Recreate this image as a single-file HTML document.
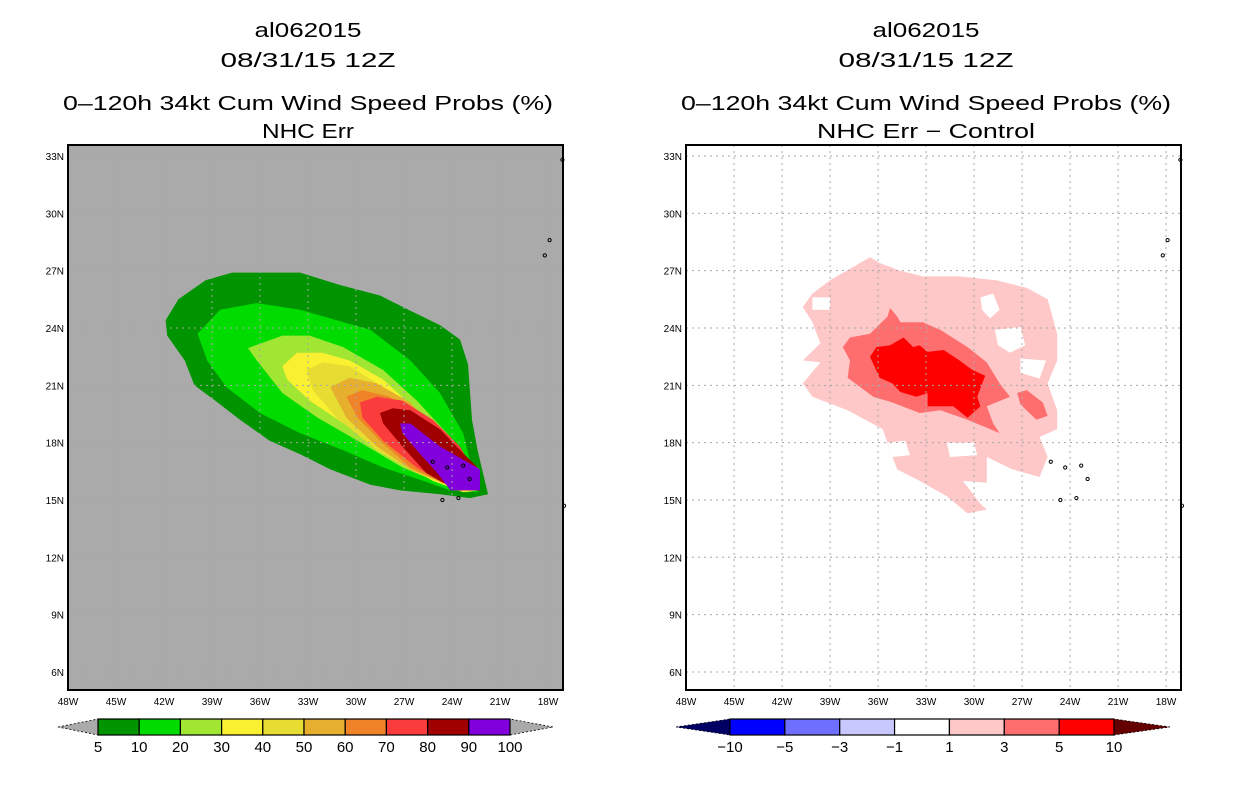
<!DOCTYPE html>
<html><head><meta charset="utf-8"><style>
html,body{margin:0;padding:0;background:#fff;}
svg{display:block;font-family:"Liberation Sans",sans-serif;}
</style></head><body>
<svg id="root" width="1236" height="800" viewBox="0 0 1236 800" xmlns="http://www.w3.org/2000/svg"></svg>
<script>
// ---- axis data ----
const lonTicks=[-48,-45,-42,-39,-36,-33,-30,-27,-24,-21,-18];
const latTicks=[6,9,12,15,18,21,24,27,30,33];
// left panel contour polygons [lon,lat]
const p5=[[-41.9,24.4],[-41.1,25.5],[-39.4,26.5],[-37.75,26.9],[-33.5,26.9],[-31.0,26.25],[-28.5,25.7],[-26.6,24.9],[-24.75,24.15],[-23.5,23.4],[-23.0,22.1],[-22.75,19.2],[-22.4,17.6],[-21.75,15.3],[-22.9,15.1],[-24.75,15.3],[-27.25,15.5],[-29.1,15.8],[-31.6,16.6],[-33.5,17.4],[-35.4,18.1],[-37.25,19.2],[-38.8,20.2],[-40.1,21.0],[-40.7,22.3],[-41.8,23.6]];
const p10=[[-39.9,23.7],[-38.5,24.95],[-36.2,25.3],[-33.5,24.95],[-31.2,24.4],[-29.1,23.9],[-26.6,22.3],[-24.75,20.6],[-23.3,18.5],[-22.9,17.1],[-22.25,16.6],[-22.4,15.4],[-24.1,15.5],[-25.8,16.0],[-28.3,16.7],[-30.8,17.6],[-33.5,18.5],[-36.0,19.55],[-38.1,20.9],[-39.3,22.3]];
const p20=[[-36.75,22.95],[-34.6,23.6],[-32.9,23.6],[-30.8,23.0],[-28.3,21.8],[-26.2,20.2],[-24.1,18.3],[-22.9,16.9],[-22.4,16.6],[-22.4,15.5],[-23.1,15.4],[-24.75,15.9],[-27.1,16.7],[-29.9,18.1],[-32.4,19.3],[-34.6,20.6],[-36.2,22.3]];
const p30=[[-34.6,22.0],[-33.7,22.7],[-32.1,22.7],[-30.4,22.3],[-28.3,21.3],[-26.2,19.7],[-24.3,18.0],[-22.9,16.7],[-22.4,16.4],[-22.4,15.5],[-23.3,15.4],[-25.2,16.0],[-27.9,17.25],[-30.4,18.8],[-32.9,20.2],[-34.3,21.3]];
const p40=[[-33.1,21.8],[-32.1,22.2],[-30.4,22.0],[-28.3,20.9],[-26.2,19.3],[-24.3,17.6],[-22.9,16.6],[-22.9,15.5],[-24.1,15.7],[-26.2,16.4],[-28.7,17.6],[-31.2,19.3],[-32.7,20.75]];
const p50=[[-31.6,20.9],[-30.4,21.4],[-28.7,21.1],[-26.6,20.1],[-24.6,18.1],[-23.1,16.7],[-23.1,15.7],[-24.6,15.9],[-26.6,16.6],[-28.7,17.8],[-30.6,19.3]];
const p60=[[-30.6,20.4],[-29.6,20.75],[-27.9,20.4],[-25.8,19.2],[-24.1,17.6],[-23.1,16.6],[-23.1,15.7],[-24.6,15.9],[-26.6,16.7],[-28.5,18.1],[-29.9,19.3]];
const p70=[[-29.75,20.1],[-28.7,20.4],[-27.1,20.2],[-25.2,19.2],[-23.5,17.8],[-22.9,16.9],[-22.9,15.7],[-24.1,15.7],[-26.2,16.7],[-28.3,18.1],[-29.6,19.3]];
const p80=[[-28.5,19.55],[-27.7,19.8],[-26.6,19.7],[-24.75,18.7],[-23.3,17.45],[-22.4,16.7],[-22.25,15.5],[-23.7,15.5],[-25.6,16.4],[-27.1,17.8],[-28.3,19.0]];
const p90=[[-27.25,19.0],[-26.6,19.0],[-24.75,17.8],[-23.3,17.1],[-22.25,16.6],[-22.25,15.5],[-24.1,15.5],[-24.9,16.4],[-26.2,17.6],[-27.1,18.5]];
// right panel difference contours
const d1=[[-40.7,25.1],[-40.1,25.8],[-39.0,26.5],[-36.5,27.7],[-35.9,27.4],[-34.6,27.0],[-33.2,26.7],[-30.9,26.7],[-28.6,26.5],[-26.7,26.1],[-25.4,25.5],[-24.8,23.7],[-24.8,22.3],[-25.4,21.1],[-24.8,19.7],[-24.8,18.7],[-25.9,18.3],[-25.4,17.25],[-25.9,16.2],[-27.6,16.6],[-29.2,17.25],[-29.2,15.9],[-30.7,16.0],[-29.6,14.8],[-29.2,14.5],[-30.4,14.3],[-31.7,15.2],[-33.4,16.0],[-34.8,16.6],[-35.25,17.6],[-35.7,18.7],[-37.9,19.7],[-40.1,20.4],[-40.7,21.1],[-39.6,22.2],[-40.7,22.3],[-39.6,23.2],[-40.1,24.3]];
const holes=[
 [[-29.6,25.6],[-28.8,25.8],[-28.4,24.95],[-29.0,24.5],[-29.5,24.95]],
 [[-28.7,23.9],[-27.1,24.05],[-26.8,23.1],[-27.75,22.7],[-28.5,23.1]],
 [[-27.1,22.4],[-25.5,22.3],[-25.9,21.35],[-27.1,21.65]],
 [[-35.4,18.0],[-34.3,18.1],[-34.0,17.35],[-35.1,17.25]],
 [[-31.7,18.0],[-30.0,18.0],[-29.8,17.35],[-31.5,17.25]],
 [[-40.1,25.6],[-39.0,25.6],[-39.0,24.95],[-40.1,24.95]]];
const d3=[[-38.2,23.0],[-37.75,23.5],[-36.5,23.7],[-35.4,24.6],[-35.25,25.05],[-34.8,24.6],[-34.6,24.3],[-33.2,24.3],[-32.1,23.9],[-30.4,23.0],[-29.2,22.2],[-28.4,21.1],[-27.75,20.4],[-29.2,19.9],[-28.8,19.0],[-28.4,18.5],[-30.4,19.2],[-32.1,19.7],[-33.4,19.55],[-35.1,20.1],[-36.3,20.4],[-37.9,21.4],[-37.75,22.3]];
const d3b=[[-27.3,20.6],[-26.7,20.75],[-25.7,20.1],[-25.4,19.4],[-26.1,19.2],[-27.1,20.0]];
const d5=[[-36.5,22.5],[-36.1,23.0],[-35.25,23.1],[-34.4,23.5],[-33.8,23.0],[-33.4,23.1],[-32.9,22.75],[-31.9,22.85],[-30.9,22.3],[-30.1,21.8],[-29.3,21.5],[-29.8,20.4],[-29.6,19.9],[-30.4,19.3],[-31.3,19.9],[-32.9,19.9],[-32.9,20.6],[-33.6,20.4],[-34.6,20.65],[-35.1,21.1],[-35.9,21.4]];
// colorbars
const leftLevels=["5","10","20","30","40","50","60","70","80","90","100"];
const leftColors=["#009400","#00dc00","#a0e632","#f8f030","#e6dc32","#e6af2d","#f08228","#fa3c3c","#a00000","#8200dc"];
const rightLevels=["\u221210","\u22125","\u22123","\u22121","1","3","5","10"];
const rightColors=["#0000ff","#6e6eff","#c8c8ff","#ffffff","#ffc8c8","#ff6e6e","#ff0000"];

const NS="http://www.w3.org/2000/svg";
const root=document.getElementById('root');
function mk(tag,attrs,parent){const e=document.createElementNS(NS,tag);for(const k in attrs)e.setAttribute(k,attrs[k]);(parent||root).appendChild(e);return e;}
function xS(off){return lon=>off+68+(lon+48)*16;}
const yS=lat=>156+(33-lat)*19.11;

function panel(off,titleLast,lastW,prefix){
  const X=xS(off);
  const g=mk('g',{});
  
  
  const titles=["al062015","08/31/15 12Z","0\u2013120h 34kt Cum Wind Speed Probs (%)",titleLast];
  const widths=[107,175,490,lastW];
  const ys=[37,67,110,138];
  titles.forEach((t,i)=>{
    const tx=mk('text',{x:off+308,y:ys[i],'text-anchor':'middle','font-size':'20',fill:'#000',textLength:widths[i],lengthAdjust:'spacingAndGlyphs'},g);
    
    
    tx.textContent=t;
  });
  const bg=mk('rect',{x:off+68,y:145,width:495,height:545,fill:prefix==='left'?'#aaaaaa':'#ffffff'},g);
  
  
  const cg=mk('g',{},g);
  
  
  const poly=(pts,fill,name)=>{
    const p=mk('polygon',{points:pts.map(q=>X(q[0]).toFixed(1)+','+yS(q[1]).toFixed(1)).join(' '),fill:fill},cg);
    
    
  };
  if(prefix==='left'){
    [p5,p10,p20,p30,p40,p50,p60,p70,p80,p90].forEach((p,i)=>poly(p,leftColors[i],'prob-contour-'+leftLevels[i]));
  } else {
    poly(d1,'#ffc8c8','diff-contour-1');
    holes.forEach(h=>poly(h,'#ffffff','diff-hole'));
    poly(d3,'#ff6e6e','diff-contour-3');
    poly(d3b,'#ff6e6e','diff-contour-3-patch');
    poly(d5,'#ff0000','diff-contour-5');
  }
  lonTicks.forEach(l=>{
    const gl=mk('line',{x1:X(l),x2:X(l),y1:145,y2:690,stroke:'#a8a8a8','stroke-width':1,'stroke-dasharray':'2,4'},g);
    
    
    const t=mk('text',{x:X(l),y:705,'text-anchor':'middle','font-size':'10',fill:'#000'},g);
    
    
    t.textContent=Math.abs(l)+'W';
  });
  latTicks.forEach(l=>{
    const gl=mk('line',{x1:off+68,x2:off+563,y1:yS(l),y2:yS(l),stroke:'#a8a8a8','stroke-width':1,'stroke-dasharray':'2,4'},g);
    
    
    const t=mk('text',{x:off+64,y:yS(l)+4,'text-anchor':'end','font-size':'10',fill:'#000'},g);
    
    
    t.textContent=l+'N';
  });
  const isl=[[-25.2,17.0],[-24.3,16.7],[-23.3,16.8],[-22.9,16.1],[-24.6,15.0],[-23.6,15.1],[-17.1,32.8],[-17.9,28.6],[-18.2,27.8],[-17.0,14.7]];
  isl.forEach(q=>{
    const c=mk('circle',{cx:X(q[0]),cy:yS(q[1]),r:1.6,fill:'none',stroke:'#000','stroke-width':1},g);
    
    
  });
  const fr=mk('rect',{x:off+68,y:145,width:495,height:545,fill:'none',stroke:'#000','stroke-width':2},g);
  
  
}
panel(0,"NHC Err",92,'left');
panel(618,"NHC Err \u2212 Control",218,'right');

function colorbar(x0,x1,tl,tr,colors,levels,leftTri,rightTri,name){
  const g=mk('g',{});
  
  
  const n=colors.length, w=(x1-x0)/n, y0=719, y1=735, ym=727;
  const a=mk('polygon',{points:`${tl},${ym} ${x0},${y0} ${x0},${y1}`,fill:leftTri,stroke:'#000','stroke-width':0.8,'stroke-dasharray':'2,2'},g);
  
  
  const b=mk('polygon',{points:`${tr},${ym} ${x1},${y0} ${x1},${y1}`,fill:rightTri,stroke:'#000','stroke-width':0.8,'stroke-dasharray':'2,2'},g);
  
  
  colors.forEach((c,i)=>{
    const r=mk('rect',{x:x0+i*w,y:y0,width:w,height:y1-y0,fill:c,stroke:'#000','stroke-width':1.2},g);
    
    
  });
  levels.forEach((l,i)=>{
    const t=mk('text',{x:x0+i*w,y:752,'text-anchor':'middle','font-size':'15',fill:'#000'},g);
    
    
    t.textContent=l;
  });
}
colorbar(98,510,58,553,leftColors,leftLevels,'#aaaaaa','#aaaaaa','left-colorbar');
colorbar(730,1114,676,1170,rightColors,rightLevels,'#000064','#640000','right-colorbar');
</script>
</body></html>
